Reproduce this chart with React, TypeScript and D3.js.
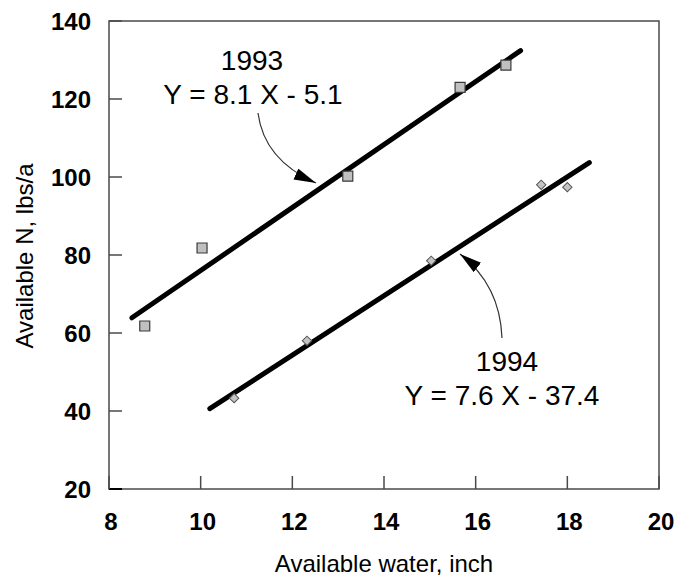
import React from "react";
import * as d3 from "d3";

// chart values
const water1993 = [8.78, 10.03, 13.21, 15.66, 16.66];
const nitrogen1993 = [61.8, 81.8, 100.2, 123.0, 128.7];
const water1994 = [10.73, 12.32, 15.03, 17.43, 18.0];
const nitrogen1994 = [43.3, 58.0, 78.5, 98.0, 97.4];

// fitted lines, endpoints [x, y]
const fit1993: [number, number][] = [[8.5, 63.9], [16.98, 132.4]];
const fit1994: [number, number][] = [[10.2, 40.6], [18.48, 103.7]];

const xTicks = [8, 10, 12, 14, 16, 18, 20];
const yTicks = [20, 40, 60, 80, 100, 120, 140];

const label1993 = ["1993", "Y = 8.1 X - 5.1"];
const label1994 = ["1994", "Y = 7.6 X - 37.4"];

const W = 689;
const H = 577;
const margin = { top: 21, right: 30, bottom: 88, left: 109 };
const font = "'Liberation Sans', Arial, Helvetica, sans-serif";

export default function App() {
  const x = d3.scaleLinear().domain([8, 20]).range([margin.left, W - margin.right]);
  const y = d3.scaleLinear().domain([20, 140]).range([H - margin.bottom, margin.top]);
  const line = d3.line<[number, number]>().x((d) => x(d[0])).y((d) => y(d[1]));
  const square = d3.symbol().type(d3.symbolSquare).size(100)();
  const diamond = d3.symbol().type(d3.symbolSquare).size(44)();

  const axisColor = "#4a4a4a";
  const x0 = x(8), x1 = x(20), y0 = y(20), y1 = y(140);

  return (
    <svg width={W} height={H} style={{ position: "absolute", left: 0, top: 0, display: "block" }}>
      <defs>
        <marker id="head" markerUnits="userSpaceOnUse" markerWidth={24} markerHeight={14}
          refX={22} refY={6} orient="auto">
          <path d="M0,0 L22,6 L0,12 Z" fill="#000" />
        </marker>
      </defs>
      <rect width={W} height={H} fill="#fff" />

      {/* frame */}
      <rect x={x0} y={y1} width={x1 - x0} height={y0 - y1} fill="none" stroke={axisColor} strokeWidth={1.5} />

      {/* ticks */}
      {yTicks.map((t) => (
        <g key={"y" + t}>
          <line x1={x0} x2={x0 + 13} y1={y(t)} y2={y(t)} stroke={t === 20 ? "#000" : axisColor} strokeWidth={t === 20 ? 2 : 1.5} />
          <text x={x0 - 18} y={y(t)} dy="0.36em" textAnchor="end" fontFamily={font}
            fontWeight="bold" fontSize={24} fill="#000">{t}</text>
        </g>
      ))}
      {xTicks.map((t) => (
        <g key={"x" + t}>
          <line x1={x(t)} x2={x(t)} y1={y0} y2={y0 - 13} stroke={axisColor} strokeWidth={1.5} />
          <text x={x(t) + 2} y={y0 + 41} textAnchor="middle" fontFamily={font}
            fontWeight="bold" fontSize={24} fill="#000">{t}</text>
        </g>
      ))}

      {/* axis titles */}
      <text x={384} y={572} textAnchor="middle" fontFamily={font} fontSize={24} fill="#000">
        Available water, inch
      </text>
      <text transform="translate(33,256) rotate(-90)" textAnchor="middle" fontFamily={font}
        fontSize={24} fill="#000">
        Available N, lbs/a
      </text>

      {/* regression lines */}
      <path d={line(fit1993) ?? ""} stroke="#000" strokeWidth={5} strokeLinecap="round" fill="none" />
      <path d={line(fit1994) ?? ""} stroke="#000" strokeWidth={5} strokeLinecap="round" fill="none" />

      {/* points */}
      {water1993.map((w, i) => (
        <path key={"s" + i} d={square ?? ""} transform={`translate(${x(w)},${y(nitrogen1993[i])})`}
          fill="#c0c0c0" stroke="#3a3a3a" strokeWidth={1.2} />
      ))}
      {water1994.map((w, i) => (
        <path key={"d" + i} d={diamond ?? ""} transform={`translate(${x(w)},${y(nitrogen1994[i])}) rotate(45)`}
          fill="#c4c4c4" stroke="#555" strokeWidth={1} />
      ))}

      {/* annotations */}
      <g fontFamily={font} fontSize={28} fill="#000" textAnchor="middle">
        <text x={252} y={70}>{label1993[0]}</text>
        <text x={253} y={104}>{label1993[1]}</text>
        <text x={507} y={371}>{label1994[0]}</text>
        <text x={502} y={405}>{label1994[1]}</text>
      </g>
      <path d="M258,113 Q264,160 316,183" fill="none" stroke="#333" strokeWidth={1.2} markerEnd="url(#head)" />
      <path d="M502,338 Q500,285 460,254" fill="none" stroke="#333" strokeWidth={1.2} markerEnd="url(#head)" />
    </svg>
  );
}
